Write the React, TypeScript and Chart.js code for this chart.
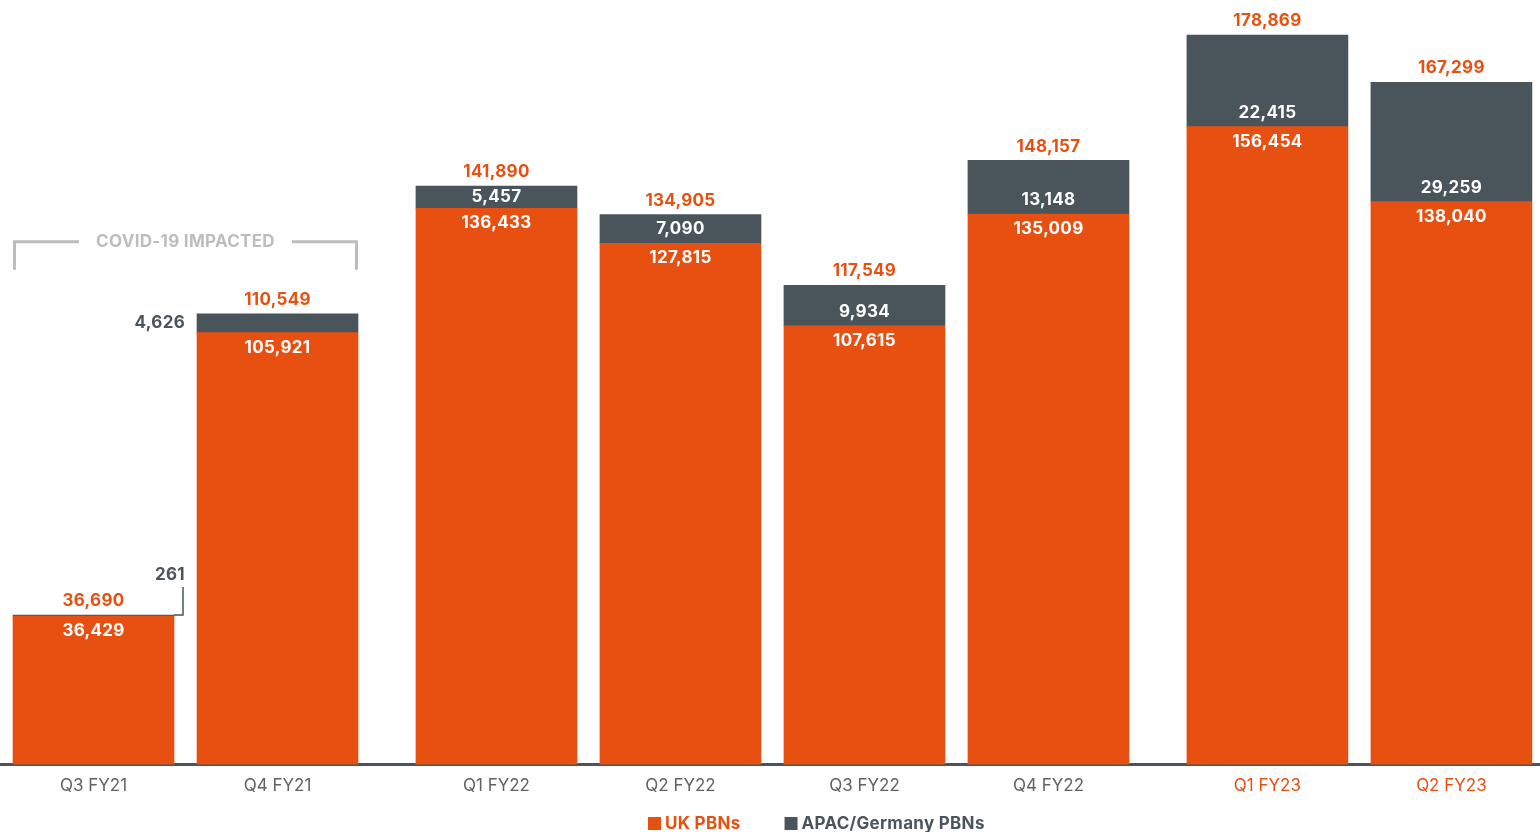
import React, { useEffect, useRef } from 'react';
import { Chart, registerables } from 'chart.js';

Chart.register(...registerables);

// ---------- data ----------
const categories = ['Q3 FY21', 'Q4 FY21', 'Q1 FY22', 'Q2 FY22', 'Q3 FY22', 'Q4 FY22', 'Q1 FY23', 'Q2 FY23'];
const categoryGroup = [0, 0, 1, 1, 1, 1, 2, 2];
const ukPBNs = [36429, 105921, 136433, 127815, 107615, 135009, 156454, 138040];
const apacGermanyPBNs = [261, 4626, 5457, 7090, 9934, 13148, 22415, 29259];
const totalPBNs = [36690, 110549, 141890, 134905, 117549, 148157, 178869, 167299];
const highlightedCategories = ['Q1 FY23', 'Q2 FY23'];
const annotatedCategories = ['Q3 FY21', 'Q4 FY21'];
const annotationText = 'COVID-19 IMPACTED';
const seriesNames = ['UK PBNs', 'APAC/Germany PBNs'];

// ---------- style ----------
const FONT = 'Inter, "Open Sans", sans-serif';
const ORANGE = '#E85011';
const DARK = '#4A555B';
const TICK_GRAY = '#626262';
const NOTE_GRAY = '#BDBDBD';
const GROUP_GAP = 0.19;
const UNIT_PX = 184;

const xPositions = categories.map((_, i) => i + categoryGroup[i] * GROUP_GAP);
const fmt = (v: number) => v.toLocaleString('en-US');

const labelPlugin = {
  id: 'valueLabels',
  afterDatasetsDraw(chart: any) {
    const ctx = chart.ctx as any;
    const uk = chart.getDatasetMeta(0).data;
    const ap = chart.getDatasetMeta(1).data;
    ctx.save();
    ctx.font = `700 17px ${FONT}`;
    ctx.letterSpacing = '0.3px';
    ctx.textAlign = 'center';
    ctx.textBaseline = 'middle';
    categories.forEach((_, i) => {
      const u = uk[i];
      const a = ap[i];
      const x = u.x;
      const half = u.width / 2;
      const boundary = u.y;
      const top = a.y;
      const segH = boundary - top;
      ctx.textAlign = 'center';
      ctx.fillStyle = ORANGE;
      ctx.fillText(fmt(totalPBNs[i]), x, top - 14);
      ctx.fillStyle = '#FFFFFF';
      ctx.fillText(fmt(ukPBNs[i]), x, boundary + 15);
      if (segH < 4) {
        const bx = x + half + 9;
        ctx.strokeStyle = DARK;
        ctx.lineWidth = 1.5;
        ctx.beginPath();
        ctx.moveTo(x + half, top);
        ctx.lineTo(bx, top);
        ctx.lineTo(bx, top - 28);
        ctx.stroke();
        ctx.fillStyle = DARK;
        ctx.textAlign = 'right';
        ctx.fillText(fmt(apacGermanyPBNs[i]), x + half + 11, top - 40);
      } else if (segH < 20.5) {
        ctx.fillStyle = DARK;
        ctx.textAlign = 'right';
        ctx.fillText(fmt(apacGermanyPBNs[i]), x - half - 12, (top + boundary) / 2);
      } else {
        ctx.fillStyle = '#FFFFFF';
        ctx.fillText(fmt(apacGermanyPBNs[i]), x, Math.max(boundary - 14, (top + boundary) / 2));
      }
    });

    // COVID annotation bracket
    const idx = annotatedCategories.map((c) => categories.indexOf(c));
    const first = ap[idx[0]];
    const last = ap[idx[idx.length - 1]];
    const left = first.x - first.width / 2;
    const right = last.x + last.width / 2;
    const highest = Math.min(...idx.map((k) => ap[k].y));
    const y = highest - 72;
    const tw = ctx.measureText(annotationText).width;
    const cx = (left + right) / 2;
    ctx.strokeStyle = NOTE_GRAY;
    ctx.lineWidth = 3;
    ctx.beginPath();
    ctx.moveTo(left + 1.5, y + 28);
    ctx.lineTo(left + 1.5, y);
    ctx.lineTo(cx - tw / 2 - 17, y);
    ctx.moveTo(cx + tw / 2 + 17, y);
    ctx.lineTo(right - 1.5, y);
    ctx.lineTo(right - 1.5, y + 28);
    ctx.stroke();
    ctx.fillStyle = NOTE_GRAY;
    ctx.textAlign = 'center';
    ctx.fillText(annotationText, cx, y);
    ctx.restore();
  },
  afterDraw(chart: any) {
    const ctx = chart.ctx as any;
    ctx.save();
    ctx.font = `700 17px ${FONT}`;
    ctx.letterSpacing = '0.3px';
    ctx.textBaseline = 'middle';
    ctx.textAlign = 'left';
    let x = 648;
    const y = 824;
    chart.data.datasets.forEach((ds: any) => {
      ctx.fillStyle = ds.backgroundColor;
      ctx.fillRect(x, y - 7, 13, 13);
      ctx.fillText(ds.label, x + 17, y);
      x += 17 + ctx.measureText(ds.label).width + 44;
    });
    ctx.restore();
  },
};

export default function App() {
  const canvasRef = useRef<HTMLCanvasElement | null>(null);

  useEffect(() => {
    if (!canvasRef.current) return;
    const xMin = -93.5 / UNIT_PX;
    const xMax = xMin + 1540 / UNIT_PX;
    const chart = new Chart(canvasRef.current, {
      type: 'bar',
      data: {
        datasets: [
          {
            label: seriesNames[0],
            data: xPositions.map((x, i) => ({ x, y: ukPBNs[i] })),
            backgroundColor: ORANGE,
            borderWidth: 0,
            barThickness: 161,
          },
          {
            label: seriesNames[1],
            data: xPositions.map((x, i) => ({ x, y: apacGermanyPBNs[i] })),
            backgroundColor: DARK,
            borderWidth: 0,
            barThickness: 161,
          },
        ],
      },
      options: {
        animation: false,
        responsive: true,
        maintainAspectRatio: false,
        layout: { padding: { top: 0, bottom: 25, left: 0, right: 0 } },
        plugins: {
          legend: { display: false },
          tooltip: { enabled: false },
        },
        scales: {
          x: {
            type: 'linear',
            stacked: true,
            offset: false,
            min: xMin,
            max: xMax,
            z: 1,
            grid: { display: false, drawTicks: false, offset: false },
            border: { display: true, color: DARK, width: 3 },
            afterBuildTicks: (scale: any) => {
              scale.ticks = xPositions.map((v) => ({ value: v }));
            },
            ticks: {
              autoSkip: false,
              maxRotation: 0,
              padding: 11,
              font: { family: FONT, size: 17, weight: '400' },
              color: (c: any) => {
                const i = xPositions.findIndex((p) => Math.abs(p - c.tick.value) < 1e-6);
                return i >= 0 && highlightedCategories.includes(categories[i]) ? ORANGE : TICK_GRAY;
              },
              callback: (value: any) => {
                const i = xPositions.findIndex((p) => Math.abs(p - Number(value)) < 1e-6);
                return i >= 0 ? categories[i] : '';
              },
            },
          },
          y: {
            stacked: true,
            display: false,
            min: 0,
            max: 187500,
          },
        },
      },
      plugins: [labelPlugin],
    } as any);
    return () => chart.destroy();
  }, []);

  return (
    <div style={{ position: 'absolute', left: 0, top: 0, width: 1540, height: 832 }}>
      <canvas ref={canvasRef} />
    </div>
  );
}
